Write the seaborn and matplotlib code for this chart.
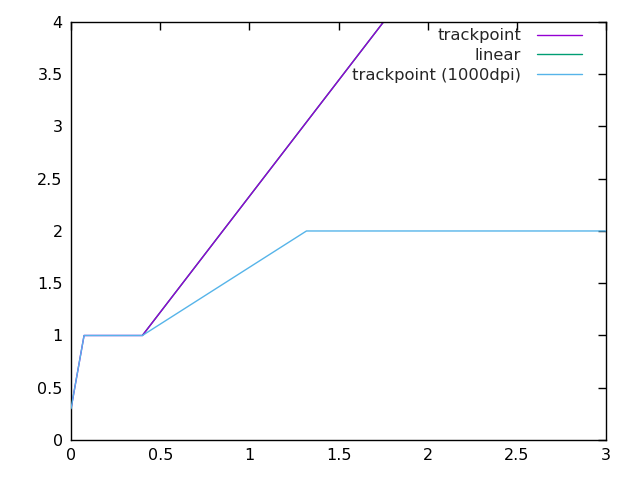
import pandas as pd
import matplotlib
matplotlib.use("Agg")
import matplotlib.pyplot as plt
import seaborn as sns

# trackpoint curve
TRACK_X = [0.0, 0.073, 0.4, 2.0]
TRACK_Y = [0.3, 1.0, 1.0, 4.55]

# linear curve (lies under the trackpoint curve)
LINEAR_X = [0.4, 2.0]
LINEAR_Y = [1.0, 4.55]

# trackpoint at 1000dpi
HIRES_X = [0.0, 0.073, 0.4, 1.32, 3.0]
HIRES_Y = [0.3, 1.0, 1.0, 2.0, 2.0]

X_TICKS = [0, 0.5, 1, 1.5, 2, 2.5, 3]
Y_TICKS = [0, 0.5, 1, 1.5, 2, 2.5, 3, 3.5, 4]

PURPLE = "#9400d3"
GREEN = "#009e73"
BLUE = "#56b4e9"

sns.set_style("white")
plt.rcParams["font.family"] = ["DejaVu Sans"]

figure = plt.figure(figsize=(6.4, 4.8), dpi=100)
axes = figure.add_axes([0.111, 0.0833, 0.836, 0.871])

track_df = pd.DataFrame({"x": TRACK_X, "y": TRACK_Y})
linear_df = pd.DataFrame({"x": LINEAR_X, "y": LINEAR_Y})
hires_df = pd.DataFrame({"x": HIRES_X, "y": HIRES_Y})

sns.lineplot(data=linear_df, x="x", y="y", sort=False, estimator=None,
             color=GREEN, linewidth=1, ax=axes, label="linear", zorder=1)
sns.lineplot(data=track_df, x="x", y="y", sort=False, estimator=None,
             color=PURPLE, linewidth=1, ax=axes, label="trackpoint", zorder=2)
sns.lineplot(data=hires_df, x="x", y="y", sort=False, estimator=None,
             color=BLUE, linewidth=1, ax=axes, label="trackpoint (1000dpi)", zorder=3)

axes.set_xlim(0, 3)
axes.set_ylim(0, 4)
axes.set_xticks(X_TICKS)
axes.set_yticks(Y_TICKS)
axes.set_xticklabels([f"{t:g}" for t in X_TICKS])
axes.set_yticklabels([f"{t:g}" for t in Y_TICKS])
axes.set_xlabel("")
axes.set_ylabel("")
axes.tick_params(direction="in", length=6, width=1, top=True, right=True,
                 labelsize=11.5, colors="black", pad=6)
for spine in axes.spines.values():
    spine.set_color("black")
    spine.set_linewidth(1)

handles, labels = axes.get_legend_handles_labels()
order = [labels.index(n) for n in ["trackpoint", "linear", "trackpoint (1000dpi)"]]
axes.legend([handles[i] for i in order], [labels[i] for i in order],
            loc="upper right", frameon=False, markerfirst=False,
            handlelength=2.75, handletextpad=1.0, fontsize=11.8,
            labelspacing=0.28, borderaxespad=0.0, borderpad=0.4,
            bbox_to_anchor=(0.968, 1.0))

figure.savefig("out.png", dpi=100)
